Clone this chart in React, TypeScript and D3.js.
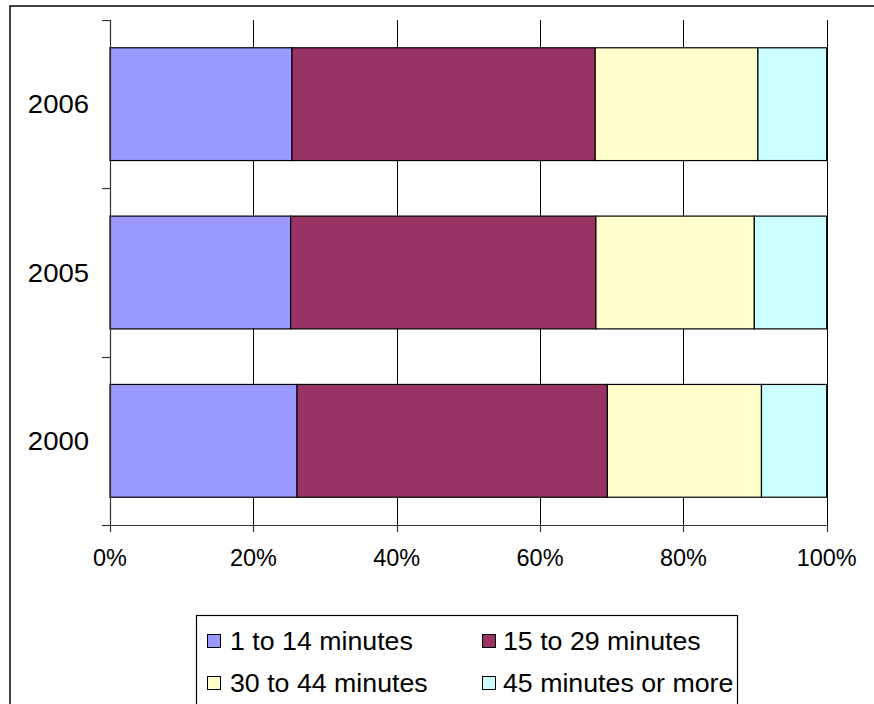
import React, { useEffect, useRef } from "react";
import * as d3 from "d3";

const categories = ["2006", "2005", "2000"];
const seriesNames = ["1 to 14 minutes", "15 to 29 minutes", "30 to 44 minutes", "45 minutes or more"];
const s1to14 = [25.4, 25.2, 26.1];
const s15to29 = [42.3, 42.6, 43.3];
const s30to44 = [22.7, 22.1, 21.5];
const s45plus = [9.6, 10.1, 9.1];
const colors = ["#9999FF", "#993366", "#FFFFCC", "#CCFFFF"];
const xTicks = [0, 0.2, 0.4, 0.6, 0.8, 1];

const W = 874;
const H = 704;
const FONT = "'Liberation Sans', Arial, sans-serif";

export default function App() {
  const ref = useRef<SVGSVGElement>(null);

  useEffect(() => {
    document.body.style.margin = "0";
    const svg = d3.select(ref.current);
    svg.selectAll("*").remove();

    const left = 110, right = 826.7, top = 20, bottom = 525;

    const data = categories.map((c, i) => ({
      cat: c,
      [seriesNames[0]]: s1to14[i],
      [seriesNames[1]]: s15to29[i],
      [seriesNames[2]]: s30to44[i],
      [seriesNames[3]]: s45plus[i],
    })) as any[];

    const stacked = d3.stack<any>().keys(seriesNames).offset(d3.stackOffsetExpand)(data);

    const x = d3.scaleLinear().domain([0, 1]).range([left, right]);
    const y = d3.scaleBand().domain(categories).range([top, bottom]).paddingInner(0.33).paddingOuter(0.165);

    // outer chart border
    svg.append("rect").attr("x", 10).attr("y", 6).attr("width", 900).attr("height", 800)
      .attr("fill", "#fff").attr("stroke", "#000").attr("stroke-width", 1.5);

    // gridlines
    svg.append("g").selectAll("line").data(xTicks.slice(1)).join("line")
      .attr("x1", (d) => Math.round(x(d)) + 0.5).attr("x2", (d) => Math.round(x(d)) + 0.5)
      .attr("y1", top).attr("y2", bottom).attr("stroke", "#000").attr("stroke-width", 1);

    // bars
    svg.append("g").selectAll("g").data(stacked).join("g")
      .attr("fill", (_d, i) => colors[i])
      .selectAll("rect").data((d) => d).join("rect")
      .attr("x", (d) => x(d[0]))
      .attr("y", (d) => y(d.data.cat)!)
      .attr("width", (d) => x(d[1]) - x(d[0]))
      .attr("height", y.bandwidth())
      .attr("stroke", "#000").attr("stroke-width", 1.2);

    // y axis
    const ya = svg.append("g");
    ya.append("line").attr("x1", left + 0.5).attr("x2", left + 0.5).attr("y1", top).attr("y2", bottom)
      .attr("stroke", "#333").attr("stroke-width", 1.2);
    const yTickPos = [top, ...categories.map((c) => y(c)! + y.bandwidth() + (y.step() - y.bandwidth()) / 2)];
    ya.selectAll("line.t").data(yTickPos).join("line").attr("class", "t")
      .attr("x1", left - 8).attr("x2", left).attr("y1", (d) => Math.round(d) + 0.5).attr("y2", (d) => Math.round(d) + 0.5)
      .attr("stroke", "#333").attr("stroke-width", 1.2);
    ya.selectAll("text").data(categories).join("text")
      .attr("transform", (c) => `translate(${left - 21},${y(c)! + y.bandwidth() / 2 + 9}) scale(1.1,1)`)
      .attr("text-anchor", "end").attr("font-family", FONT).attr("font-size", 25).attr("fill", "#000")
      .text((c) => c);

    // x axis
    const xa = svg.append("g");
    xa.append("line").attr("x1", left - 8).attr("x2", right).attr("y1", bottom + 0.5).attr("y2", bottom + 0.5)
      .attr("stroke", "#333").attr("stroke-width", 1.2);
    xa.selectAll("line.t").data(xTicks).join("line").attr("class", "t")
      .attr("x1", (d) => Math.round(x(d)) + 0.5).attr("x2", (d) => Math.round(x(d)) + 0.5)
      .attr("y1", bottom).attr("y2", bottom + 7).attr("stroke", "#333").attr("stroke-width", 1.2);
    xa.selectAll("text").data(xTicks).join("text")
      .attr("transform", (d) => `translate(${x(d)},566) scale(1.02,1)`)
      .attr("text-anchor", "middle").attr("font-family", FONT).attr("font-size", 23).attr("fill", "#000")
      .text((d) => d3.format(".0%")(d));

    // legend
    const lg = svg.append("g");
    lg.append("rect").attr("x", 196.5).attr("y", 615.5).attr("width", 541).attr("height", 200)
      .attr("fill", "#fff").attr("stroke", "#000").attr("stroke-width", 1.2);
    const pos = [
      { sx: 207, tx: 230, y: 650 },
      { sx: 482, tx: 503, y: 650 },
      { sx: 207, tx: 230, y: 692 },
      { sx: 482, tx: 503, y: 692 },
    ];
    seriesNames.forEach((name, i) => {
      const p = pos[i];
      lg.append("rect").attr("x", p.sx + 0.5).attr("y", p.y - 15.5).attr("width", 13).attr("height", 13)
        .attr("fill", colors[i]).attr("stroke", "#000").attr("stroke-width", 1);
      lg.append("text").attr("transform", `translate(${p.tx},${p.y}) scale(1.07,1)`)
        .attr("font-family", FONT).attr("font-size", 25).attr("fill", "#000").text(name);
    });
  }, []);

  return (
    <svg ref={ref} width={W} height={H} style={{ position: "absolute", left: 0, top: 0, display: "block", background: "#fff" }} />
  );
}
